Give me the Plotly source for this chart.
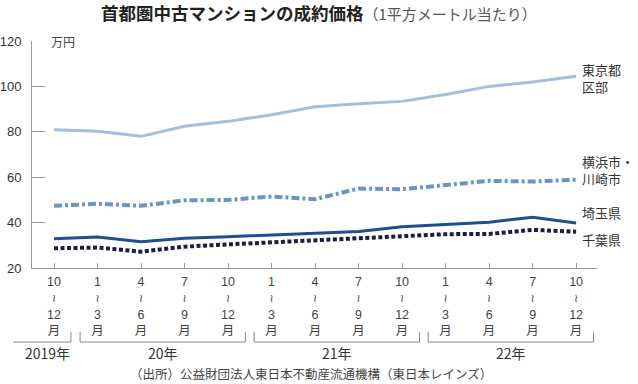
import plotly.graph_objects as go

# ---- data ----
tick_top = ["10", "1", "4", "7", "10", "1", "4", "7", "10", "1", "4", "7", "10"]
tick_bot = ["12", "3", "6", "9", "12", "3", "6", "9", "12", "3", "6", "9", "12"]
years = ["2019年", "20年", "21年", "22年"]
year_first = [0, 1, 5, 9]
year_last = [0, 4, 8, 12]

tokyo = [80.9, 80.2, 78.0, 82.4, 84.6, 87.5, 91.0, 92.4, 93.4, 96.4, 100.0, 101.9, 104.5]
yokohama = [47.4, 48.3, 47.4, 49.8, 50.0, 51.5, 50.3, 55.0, 54.7, 56.5, 58.4, 58.1, 58.9]
saitama = [32.9, 33.7, 31.6, 33.1, 33.8, 34.6, 35.6, 36.1, 38.2, 39.3, 40.2, 42.3, 39.8]
chiba = [28.7, 29.0, 27.2, 29.4, 30.4, 31.3, 32.4, 33.1, 34.1, 34.9, 35.0, 36.8, 36.0]

series = [
    ("東京都<br>区部", tokyo, "#a5bedd", 3, "solid", 103.9),
    ("横浜市・<br>川崎市", yokohama, "#6c93c8", 4, "8px,3px,3px,3px", 63.0),
    ("埼玉県", saitama, "#1e4f90", 3, "solid", 44.4),
    ("千葉県", chiba, "#1a1f3e", 4, "4px,2.5px", 32.4),
]

FONT = "Noto Sans CJK JP"
NUMFONT = "Liberation Sans, sans-serif"
xs = list(range(len(tokyo)))
XMIN, XMAX = -0.506, 12.48

def xpaper(v):
    return (v - XMIN) / (XMAX - XMIN)

PLOT_H = 227.0
def ypaper(px_below_axis):
    return -px_below_axis / PLOT_H

ticktext = [
    f"{t}<br><span style='font-family:DejaVu Sans;font-size:11px'>≀</span><br>{b}<br>月"
    for t, b in zip(tick_top, tick_bot)
]

fig = go.Figure()
for name, vals, color, w, dash, _ in series:
    fig.add_trace(go.Scatter(x=xs, y=vals, mode="lines", name=name,
                             line=dict(color=color, width=w, dash=dash),
                             showlegend=False, hoverinfo="skip"))

ann = []
# title
ann.append(dict(x=324 / 638.0, y=1 + (41 - 13) / PLOT_H, xref="paper", yref="paper", showarrow=False,
                text="<b>首都圏中古マンションの成約価格</b><span style='font-size:15px;color:#555'>（1平方メートル当たり）</span>",
                font=dict(family=FONT, size=17.5, color="#222"), xanchor="center", yanchor="middle"))

# unit
ann.append(dict(x=xpaper(-0.12), y=1.0, xref="paper", yref="paper", showarrow=False,
                text="万円", font=dict(family=FONT, size=12, color="#444"),
                xanchor="left", yanchor="middle"))

# right-side labels
for name, vals, color, w, dash, ly in series:
    ann.append(dict(x=xs[-1], y=ly, xref="x", yref="y", showarrow=False, text=name,
                    xanchor="left", yanchor="middle", xshift=4, align="left",
                    font=dict(family=FONT, size=13, color="#333")))

# year brackets and labels
shapes = []
label_pos = [-0.14, 2.5, 6.5, 10.5]
for k, yr in enumerate(years):
    a = year_first[k] - 0.4
    b = year_last[k] + 0.4
    if k == 0:
        a = year_first[k] - 0.94
        b = year_last[k] + 0.39
    yb, yt = ypaper(74), ypaper(64)
    path = f"M {xpaper(a)} {yt} L {xpaper(a)} {yb} L {xpaper(b)} {yb} L {xpaper(b)} {yt}"
    if k == 0:
        path = f"M {xpaper(a)} {yb} L {xpaper(b)} {yb} L {xpaper(b)} {yt}"
    shapes.append(dict(type="path", path=path, xref="paper", yref="paper",
                       line=dict(color="#888", width=1)))
    ann.append(dict(x=xpaper(label_pos[k]), y=ypaper(85), xref="paper", yref="paper",
                    showarrow=False, text=yr, xanchor="center", yanchor="middle",
                    font=dict(family=FONT, size=14, color="#333")))

# source
ann.append(dict(x=315 / 638.0, y=ypaper(105), xref="paper", yref="paper", showarrow=False,
                text="（出所）公益財団法人東日本不動産流通機構（東日本レインズ）",
                xanchor="center", yanchor="middle",
                font=dict(family=FONT, size=12.5, color="#444")))

fig.update_layout(
    width=638, height=384,
    margin=dict(l=32, r=41, t=41, b=116, autoexpand=False),
    paper_bgcolor="white", plot_bgcolor="white",
    annotations=ann, shapes=shapes,
    font=dict(family=FONT),
)
fig.update_xaxes(range=[XMIN, XMAX], tickvals=xs, ticktext=ticktext, automargin=False,
                 tickfont=dict(family=NUMFONT + ", " + FONT, size=12.5, color="#444"),
                 ticks="inside", ticklen=5, tickcolor="#999", showline=True, ticklabelstandoff=2,
                 linecolor="#999", linewidth=1, showgrid=False, zeroline=False, fixedrange=True)
fig.update_yaxes(range=[20, 120], tickvals=[20, 40, 60, 80, 100, 120], automargin=False,
                 ticks="inside", ticklen=13, tickcolor="#999", showline=True,
                 linecolor="#999", linewidth=1, showgrid=False, zeroline=False,
                 tickfont=dict(family=NUMFONT, size=13, color="#333"),
                 ticklabelstandoff=7, fixedrange=True)

fig.write_html("out.html", config={"displayModeBar": False},
               post_script="document.body.style.margin='0';document.body.style.padding='0';")
